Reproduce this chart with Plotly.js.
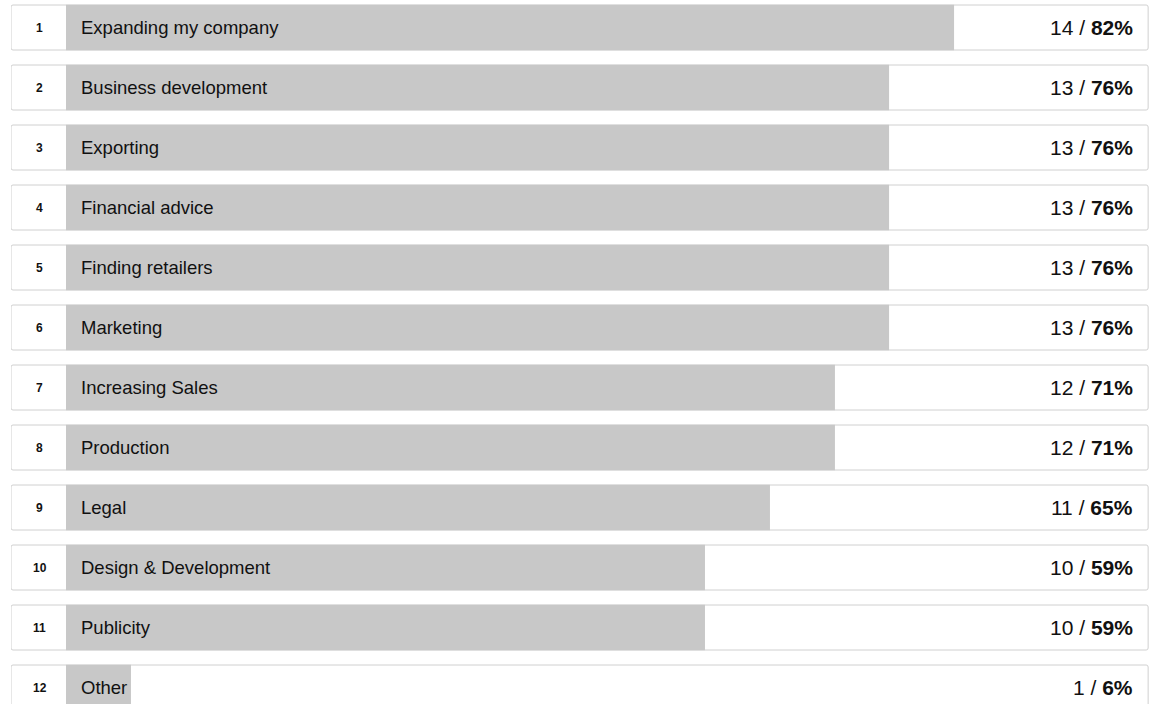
<!DOCTYPE html>
<html>
<head>
<meta charset="utf-8">
<script src="https://cdn.plot.ly/plotly-3.0.1.min.js"></script>
<style>html,body{margin:0;padding:0;background:#fff;overflow:hidden}#chart{width:1153px;height:704px}</style>
</head>
<body>
<div id="chart"></div>
<script>
const categories = ["Expanding my company","Business development","Exporting","Financial advice","Finding retailers","Marketing","Increasing Sales","Production","Legal","Design & Development","Publicity","Other"];
const counts = [14,13,13,13,13,13,12,12,11,10,10,1];
const percents = [82,76,76,76,76,76,71,71,65,59,59,6];
const ranks = [1,2,3,4,5,6,7,8,9,10,11,12];

const idx = categories.map((_, i) => i);
const cellLeft = -5.078;
const boxRight = 99.92;
const FONT = 'Liberation Sans, Arial, sans-serif';

const bgTrace = {
  type: 'bar', orientation: 'h',
  y: idx, x: idx.map(() => boxRight - cellLeft), base: idx.map(() => cellLeft),
  width: 0.75,
  marker: {color: '#ffffff', line: {color: '#d0d0d0', width: 1}, cornerradius: 2},
  hoverinfo: 'skip', showlegend: false
};
const valTrace = {
  type: 'bar', orientation: 'h',
  y: idx, x: percents, base: idx.map(() => 0),
  width: 0.76,
  marker: {color: '#c8c8c8', line: {width: 0}},
  hoverinfo: 'skip', showlegend: false
};

const annotations = [];
idx.forEach(i => {
  annotations.push({x: cellLeft / 2, y: i, xref: 'x', yref: 'y', text: '<b>' + ranks[i] + '</b>', showarrow: false, xshift: 1,
    font: {family: FONT, size: 12, color: '#111'}, xanchor: 'center', yanchor: 'middle'});
  annotations.push({x: 0, y: i, xref: 'x', yref: 'y', text: categories[i], showarrow: false, xshift: 13,
    font: {family: FONT, size: 18.5, color: '#111'}, xanchor: 'left', yanchor: 'middle'});
  annotations.push({x: 100, y: i, xref: 'x', yref: 'y', text: counts[i] + ' / <b>' + percents[i] + '%</b>', showarrow: false, xshift: -14,
    font: {family: FONT, size: 21, color: '#111'}, xanchor: 'right', yanchor: 'middle'});
});

const layout = {
  width: 1153, height: 704,
  margin: {l: 11, r: 4, t: 0, b: 0, pad: 0},
  paper_bgcolor: '#ffffff', plot_bgcolor: '#ffffff',
  barmode: 'overlay',
  xaxis: {range: [cellLeft, 100], visible: false, fixedrange: true},
  yaxis: {range: [11.275, -0.4583], visible: false, fixedrange: true, type: 'linear'},
  annotations: annotations,
  showlegend: false
};

Plotly.newPlot('chart', [bgTrace, valTrace], layout, {displayModeBar: false, staticPlot: true});
</script>
</body>
</html>
